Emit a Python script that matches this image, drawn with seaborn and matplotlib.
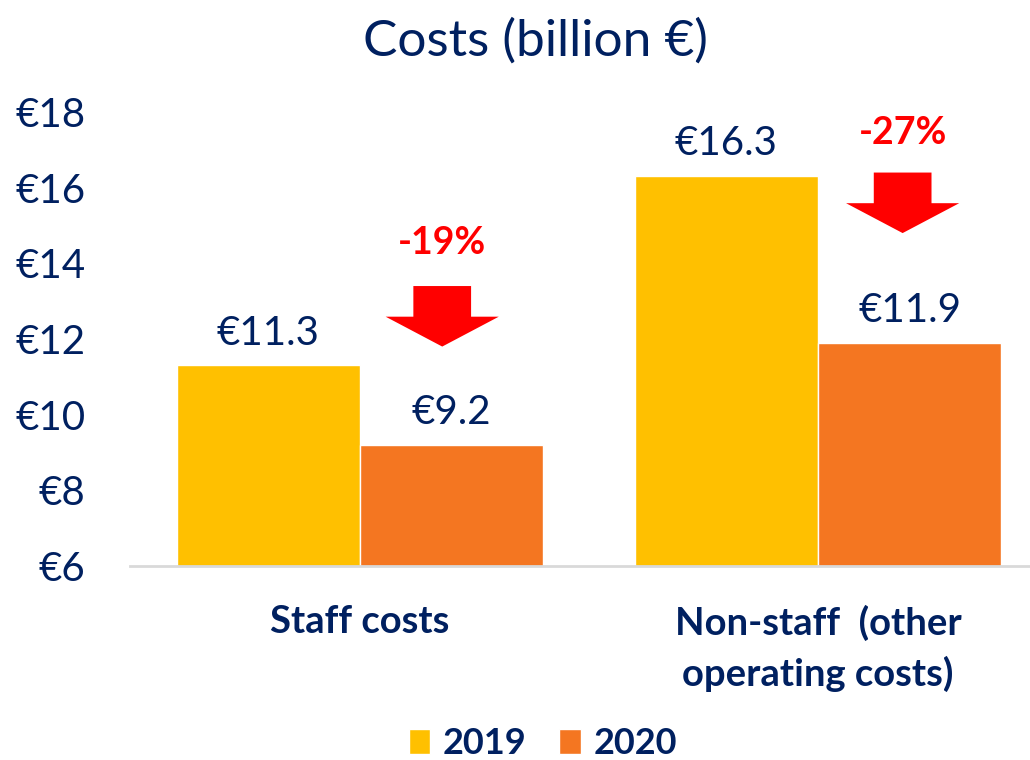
import matplotlib
matplotlib.use("Agg")
import matplotlib.pyplot as plt
from matplotlib.patches import FancyArrow
import seaborn as sns
import pandas as pd

# ---- data ----
categories = ["Staff costs", "Non-staff  (other\noperating costs)"]
years = ["2019", "2020"]
values_2019 = [11.3, 16.3]
values_2020 = [9.2, 11.9]
changes = ["-19%", "-27%"]
yticks = [6, 8, 10, 12, 14, 16, 18]
tick_labels = ["€6", "€8", "€10", "€12", "€14", "€16", "€18"]
# annotation placement (arrow tip / shaft top / text centre in value units)
arrow_tips = [11.8, 14.8]
arrow_tops = [13.4, 16.4]
text_y = [14.55, 17.45]
arrow_x_offset = [0.18, 0.185]

df = pd.DataFrame({
    "category": categories * 2,
    "year": [years[0]] * 2 + [years[1]] * 2,
    "value": values_2019 + values_2020,
})

GOLD = "#FFC000"
ORANGE = "#F47621"
NAVY = "#002060"
RED = "#FF0000"

sns.set_theme(style="white")
plt.rcParams["font.family"] = ["Lato", "DejaVu Sans"]

fig = plt.figure(figsize=(10.3, 7.6), dpi=100)
ax = fig.add_axes([0.126, 0.2553, 0.874, 0.5973])

sns.barplot(data=df, x="category", y="value", hue="year", order=categories,
            hue_order=years, palette=[GOLD, ORANGE], width=0.8, saturation=1,
            ax=ax, legend=True)

ax.set_ylim(6, 18)
ax.set_xlim(-0.502, 1.463)
ax.set_yticks(yticks)
ax.set_yticklabels(tick_labels, fontsize=29, color=NAVY)
ax.tick_params(axis="y", length=0, pad=32)
ax.tick_params(axis="x", length=0, pad=28)
ax.set_xticks(range(len(categories)))
ax.set_xticklabels(categories, fontsize=27.5, fontweight="bold", color=NAVY,
                   linespacing=1.5, va="top")
ax.set_xlabel("")
ax.set_ylabel("")
for s in ["left", "right", "top"]:
    ax.spines[s].set_visible(False)
ax.spines["bottom"].set_color("#D9D9D9")
ax.spines["bottom"].set_linewidth(2)

for cont in ax.containers:
    ax.bar_label(cont, labels=[f"€{v:.1f}" for v in cont.datavalues],
                 fontsize=29, color=NAVY, padding=10)

# arrows and change labels
for i in range(len(categories)):
    xc = i + arrow_x_offset[i]
    length = arrow_tops[i] - arrow_tips[i]
    arr = FancyArrow(xc, arrow_tops[i], 0, -length, width=0.126,
                     head_width=0.247, head_length=0.79,
                     length_includes_head=True, color=RED, lw=0)
    ax.add_patch(arr)
    ax.text(xc, text_y[i], changes[i], color=RED, fontsize=27,
            fontweight="bold", ha="center", va="center")

# legend
leg = ax.legend(loc="lower center", bbox_to_anchor=(0.527, -0.033),
                bbox_transform=fig.transFigure, ncol=2, frameon=False,
                handlelength=0.6, handleheight=0.7, handletextpad=0.35,
                columnspacing=0.9, borderpad=0.2,
                prop={"weight": "bold", "size": 26})
for t in leg.get_texts():
    t.set_color(NAVY)

fig.text(0.52, 0.946, "Costs (billion €)", ha="center", va="center",
         fontsize=37, color=NAVY)

fig.savefig("out.png", dpi=100)
